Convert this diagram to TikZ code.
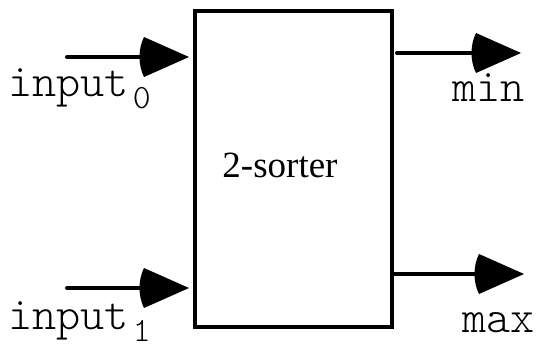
\documentclass[tikz,border=0pt]{standalone}
\usepackage{fontspec}
\setmainfont{Liberation Serif}
\setmonofont{Latin Modern Mono Light}
\usetikzlibrary{arrows.meta}

\pgfdeclarearrow{
  name = Bulb,
  setup code = {
    \pgfarrowssettipend{0pt}
    \pgfarrowssetbackend{-49pt}
    \pgfarrowssetlineend{-40pt}
    \pgfarrowssetvisualbackend{-40pt}
    \pgfarrowshullpoint{0pt}{0pt}
    \pgfarrowshullpoint{-49pt}{20pt}
    \pgfarrowshullpoint{-49pt}{-20pt}
  },
  drawing code = {
    \pgfpathmoveto{\pgfqpoint{0pt}{0pt}}
    \pgfpathlineto{\pgfqpoint{-45pt}{20pt}}
    \pgfpathcurveto{\pgfqpoint{-51pt}{8pt}}{\pgfqpoint{-51pt}{-8pt}}{\pgfqpoint{-45pt}{-20pt}}
    \pgfpathclose
    \pgfusepathqfill
  }
}

\tikzset{
  sorterbox/.style={draw, line width=4pt, minimum width=197pt, minimum height=316pt,
    inner sep=0pt, outer sep=0pt, anchor=north west},
  wire/.style={line width=4pt, line cap=round, -{Bulb}},
  portlabel/.style={anchor=base west, inner sep=0pt,
    font=\ttfamily\fontsize{46}{46}\selectfont},
  boxlabel/.style={anchor=base, inner sep=0pt, font=\fontsize{37}{37}\selectfont}
}
\newcommand{\portsub}[1]{\kern4pt\raisebox{-12pt}{\fontsize{34}{34}\selectfont #1}}

\begin{document}
\begin{tikzpicture}[x=1pt,y=-1pt]
\useasboundingbox (0,0) rectangle (540,345);
\node[sorterbox] (box) at (195,11) {};
\node[boxlabel] (lbl) at (280,177) {2-sorter};

\coordinate (i0) at (67,57);
\coordinate (i1) at (67,288);
\coordinate (o0) at (521,53);
\coordinate (o1) at (524,274);

\draw[wire] (i0) -- ([xshift=-6pt]box.west |- i0);
\draw[wire] (i1) -- ([xshift=-6pt]box.west |- i1);
\draw[wire] ([xshift=5pt]box.east |- o0) -- (o0);
\draw[wire] ([xshift=2pt]box.east |- o1) -- (o1);

\node[portlabel] (l0) at (8,96) {input\portsub{0}};
\node[portlabel] (l1) at (8,329) {input\portsub{1}};
\node[portlabel] (l2) at (452,101) {min};
\node[portlabel] (l3) at (462,332) {max};
\end{tikzpicture}
\end{document}
